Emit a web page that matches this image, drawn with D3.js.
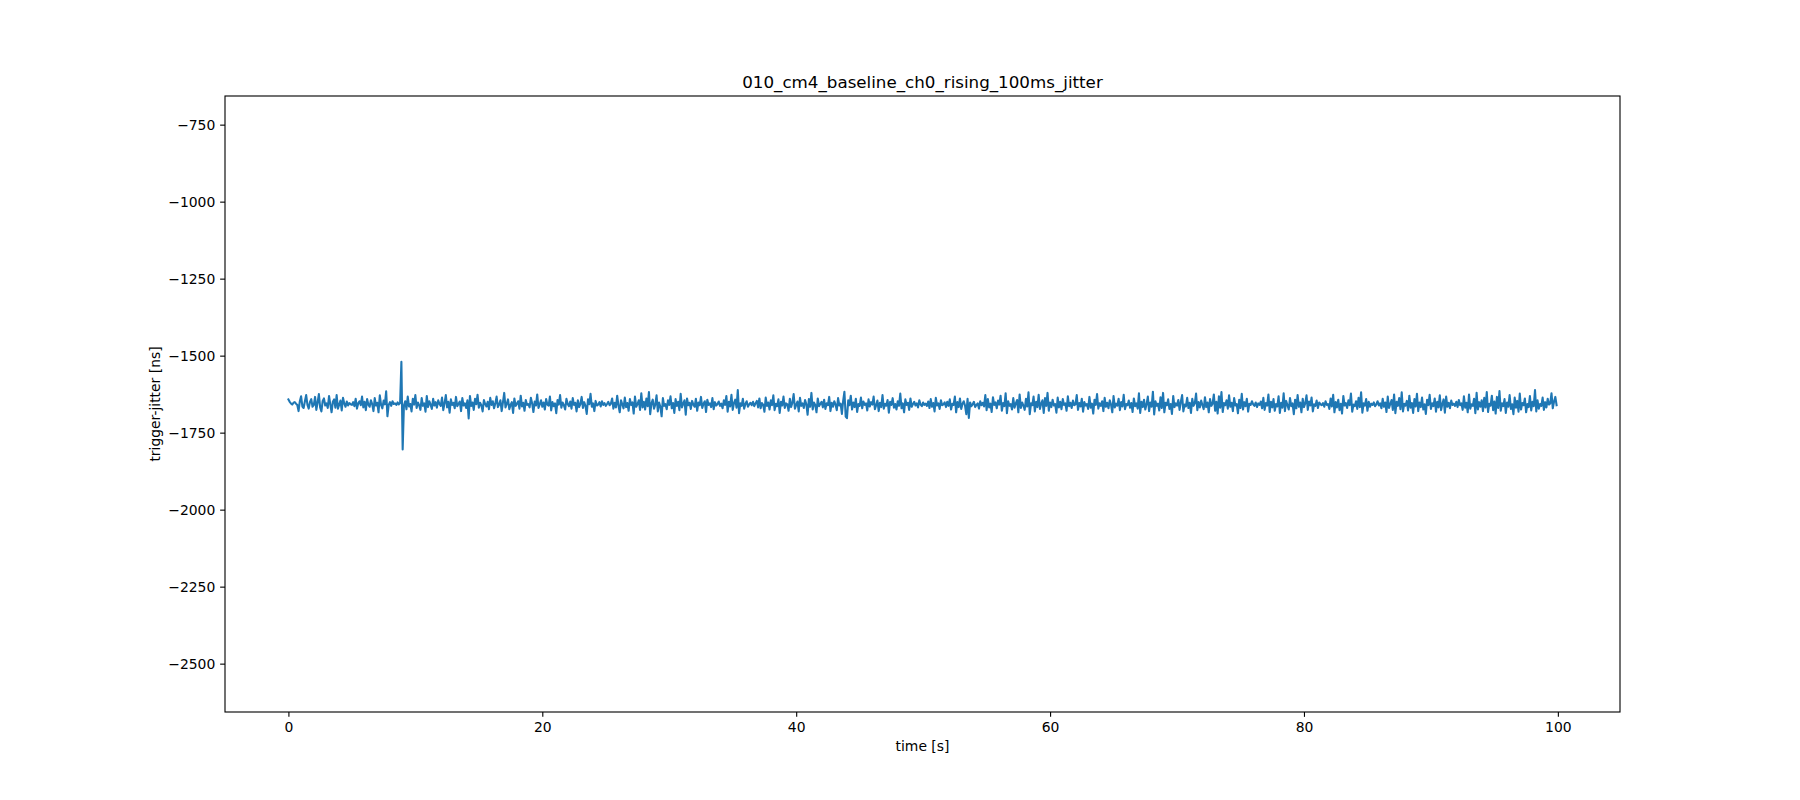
<!DOCTYPE html>
<html>
<head>
<meta charset="utf-8">
<script src="https://cdn.jsdelivr.net/npm/d3@7"></script>
<style>
  html, body { margin: 0; padding: 0; background: #ffffff; }
  svg { display: block; }
  text { font-family: "DejaVu Sans", sans-serif; fill: #000; }
</style>
</head>
<body>
<svg id="chart" width="1800" height="800"></svg>
<script>
// ---- data ----
const chartTitle = "010_cm4_baseline_ch0_rising_100ms_jitter";
const xLabel = "time [s]";
const yLabel = "trigger-jitter [ns]";
const sampleInterval = 0.1; // seconds between samples
const xTicks = [0, 20, 40, 60, 80, 100];
const yTicks = [-750, -1000, -1250, -1500, -1750, -2000, -2250, -2500];
const yLimits = [-2657, -657];

const jitter = [
-1642,-1650,-1655,-1659,-1653,-1651,-1656,-1660,-1680,-1648,-1632,-1665,-1670,-1648,-1628,-1660,-1672,-1650,-1641,-1666,
-1660,-1634,-1676,-1652,-1625,-1668,-1681,-1647,-1639,-1662,-1655,-1670,-1631,-1658,-1684,-1650,-1642,-1669,-1628,-1672,
-1659,-1646,-1678,-1637,-1655,-1666,-1649,-1662,-1654,-1658,-1660,-1651,-1664,-1640,-1672,-1655,-1648,-1661,-1633,-1668,
-1650,-1677,-1641,-1659,-1666,-1645,-1657,-1680,-1638,-1662,-1653,-1684,-1629,-1660,-1671,-1646,-1658,-1616,-1697,-1660,
-1651,-1663,-1648,-1657,-1655,-1660,-1652,-1658,-1654,-1520,-1805,-1662,-1648,-1674,-1633,-1665,-1657,-1681,-1640,-1659,
-1628,-1670,-1652,-1661,-1676,-1638,-1663,-1655,-1682,-1631,-1667,-1648,-1659,-1673,-1640,-1662,-1651,-1669,-1645,-1657,
-1663,-1636,-1677,-1654,-1628,-1668,-1650,-1685,-1642,-1660,-1653,-1671,-1634,-1664,-1657,-1649,-1680,-1638,-1662,-1655,
-1670,-1645,-1704,-1631,-1663,-1652,-1676,-1640,-1658,-1627,-1669,-1653,-1661,-1681,-1644,-1657,-1665,-1650,-1674,-1637,
-1660,-1648,-1671,-1655,-1633,-1667,-1659,-1645,-1680,-1652,-1621,-1668,-1657,-1642,-1674,-1660,-1651,-1686,-1639,-1663,
-1656,-1648,-1672,-1630,-1665,-1653,-1679,-1644,-1660,-1657,-1668,-1637,-1655,-1683,-1649,-1662,-1626,-1670,-1658,-1645,
-1666,-1652,-1675,-1641,-1659,-1662,-1633,-1678,-1651,-1664,-1655,-1687,-1644,-1659,-1628,-1669,-1652,-1661,-1675,-1640,
-1657,-1664,-1649,-1672,-1638,-1660,-1653,-1681,-1645,-1667,-1657,-1634,-1670,-1651,-1663,-1689,-1642,-1658,-1624,-1666,
-1655,-1680,-1647,-1662,-1659,-1651,-1665,-1648,-1660,-1654,-1663,-1657,-1650,-1661,-1656,-1639,-1672,-1653,-1668,-1630,
-1662,-1684,-1645,-1658,-1671,-1636,-1667,-1654,-1679,-1641,-1660,-1652,-1688,-1633,-1666,-1657,-1645,-1676,-1622,-1668,
-1650,-1675,-1639,-1664,-1618,-1690,-1655,-1643,-1672,-1659,-1629,-1681,-1652,-1666,-1697,-1638,-1663,-1657,-1674,-1645,
-1660,-1632,-1671,-1654,-1686,-1641,-1663,-1650,-1677,-1624,-1668,-1656,-1645,-1692,-1639,-1661,-1653,-1673,-1647,-1659,
-1666,-1640,-1679,-1652,-1661,-1634,-1670,-1656,-1648,-1683,-1643,-1660,-1655,-1667,-1638,-1674,-1651,-1662,-1657,-1649,
-1663,-1656,-1671,-1645,-1660,-1631,-1682,-1650,-1665,-1627,-1676,-1654,-1643,-1669,-1612,-1687,-1655,-1663,-1640,-1672,
-1657,-1648,-1666,-1658,-1653,-1661,-1650,-1664,-1655,-1647,-1668,-1639,-1671,-1654,-1660,-1682,-1636,-1663,-1652,-1675,
-1645,-1661,-1629,-1677,-1656,-1664,-1642,-1686,-1650,-1662,-1633,-1670,-1655,-1658,-1679,-1640,-1667,-1653,-1625,-1672,
-1660,-1649,-1681,-1637,-1663,-1655,-1670,-1644,-1658,-1692,-1641,-1666,-1621,-1675,-1652,-1660,-1684,-1639,-1664,-1657,
-1650,-1668,-1643,-1673,-1655,-1661,-1634,-1680,-1653,-1666,-1648,-1659,-1677,-1638,-1662,-1656,-1689,-1647,-1617,-1698,
-1703,-1645,-1661,-1630,-1675,-1652,-1667,-1640,-1683,-1657,-1663,-1636,-1671,-1649,-1660,-1655,-1678,-1642,-1665,-1651,
-1659,-1633,-1674,-1661,-1646,-1680,-1653,-1667,-1628,-1672,-1656,-1662,-1644,-1685,-1650,-1660,-1638,-1669,-1657,-1675,
-1648,-1663,-1623,-1671,-1655,-1684,-1642,-1660,-1653,-1676,-1639,-1666,-1657,-1650,-1662,-1655,-1668,-1645,-1659,-1664,
-1652,-1660,-1656,-1663,-1649,-1670,-1641,-1666,-1654,-1681,-1637,-1662,-1655,-1673,-1645,-1661,-1658,-1652,-1667,-1650,
-1663,-1642,-1675,-1656,-1660,-1633,-1684,-1651,-1667,-1639,-1673,-1657,-1648,-1662,-1690,-1640,-1702,-1652,-1664,-1658,
-1650,-1667,-1660,-1655,-1672,-1648,-1661,-1653,-1665,-1628,-1677,-1641,-1668,-1656,-1683,-1635,-1660,-1652,-1671,-1646,
-1659,-1630,-1679,-1654,-1664,-1622,-1687,-1648,-1663,-1657,-1675,-1638,-1669,-1655,-1644,-1684,-1626,-1670,-1652,-1662,
-1676,-1640,-1665,-1619,-1690,-1655,-1661,-1633,-1681,-1650,-1667,-1627,-1673,-1656,-1645,-1686,-1638,-1663,-1621,-1679,
-1652,-1667,-1643,-1662,-1657,-1685,-1636,-1668,-1650,-1674,-1641,-1660,-1655,-1679,-1632,-1664,-1653,-1670,-1646,-1661,
-1658,-1628,-1676,-1654,-1665,-1640,-1682,-1651,-1662,-1657,-1673,-1634,-1669,-1656,-1688,-1643,-1660,-1625,-1672,-1655,
-1663,-1648,-1680,-1637,-1666,-1653,-1671,-1645,-1659,-1684,-1631,-1668,-1656,-1662,-1640,-1677,-1651,-1665,-1627,-1674,
-1657,-1661,-1646,-1669,-1654,-1683,-1639,-1664,-1655,-1672,-1622,-1686,-1650,-1667,-1643,-1675,-1658,-1633,-1680,-1652,
-1666,-1617,-1691,-1648,-1663,-1656,-1678,-1635,-1670,-1621,-1684,-1653,-1661,-1642,-1673,-1657,-1689,-1631,-1667,-1655,
-1662,-1644,-1676,-1650,-1628,-1681,-1659,-1665,-1637,-1670,-1653,-1686,-1640,-1663,-1655,-1623,-1677,-1651,-1668,-1646,
-1660,-1674,-1635,-1667,-1652,-1684,-1641,-1663,-1656,-1626,-1679,-1650,-1688,-1632,-1669,-1618,-1683,-1654,-1661,-1645,
-1672,-1629,-1666,-1653,-1680,-1638,-1662,-1657,-1687,-1643,-1670,-1624,-1675,-1651,-1664,-1640,-1682,-1656,-1660,-1648,
-1658,-1663,-1652,-1667,-1655,-1660,-1649,-1671,-1637,-1676,-1654,-1662,-1626,-1683,-1650,-1668,-1641,-1679,-1657,-1665,
-1632,-1686,-1653,-1669,-1622,-1680,-1647,-1661,-1675,-1638,-1664,-1655,-1690,-1643,-1671,-1628,-1666,-1652,-1684,-1640,
-1667,-1655,-1629,-1676,-1649,-1662,-1636,-1681,-1658,-1663,-1646,-1670,-1652,-1658,-1661,-1654,-1666,-1648,-1660,-1657,
-1673,-1639,-1665,-1627,-1684,-1651,-1668,-1643,-1677,-1656,-1688,-1631,-1662,-1654,-1670,-1645,-1661,-1623,-1682,-1659,
-1664,-1648,-1673,-1637,-1667,-1619,-1685,-1655,-1662,-1641,-1679,-1650,-1666,-1656,-1660,-1652,-1664,-1658,-1648,-1662,
-1655,-1671,-1640,-1666,-1652,-1683,-1633,-1670,-1657,-1644,-1676,-1626,-1687,-1650,-1663,-1638,-1674,-1619,-1681,-1656,
-1662,-1647,-1678,-1630,-1669,-1654,-1686,-1641,-1665,-1624,-1680,-1652,-1667,-1636,-1675,-1658,-1689,-1643,-1661,-1627,
-1673,-1655,-1664,-1639,-1682,-1650,-1668,-1629,-1677,-1657,-1642,-1685,-1633,-1666,-1653,-1671,-1646,-1660,-1656,-1663,
-1650,-1667,-1644,-1661,-1655,-1676,-1632,-1669,-1653,-1684,-1626,-1672,-1658,-1663,-1640,-1687,-1621,-1675,-1651,-1666,
-1645,-1680,-1637,-1668,-1618,-1683,-1656,-1662,-1630,-1677,-1649,-1688,-1634,-1670,-1615,-1679,-1655,-1664,-1641,-1686,
-1652,-1666,-1628,-1673,-1658,-1690,-1636,-1669,-1647,-1682,-1623,-1675,-1654,-1661,-1639,-1684,-1657,-1667,-1631,-1678,
-1650,-1664,-1612,-1681,-1645,-1672,-1657,-1663,-1636,-1676,-1651,-1668,-1640,-1659,-1655,-1622,-1671,-1649,-1634,-1661
];

const points = jitter.map((v, i) => ({ t: +(i * sampleInterval).toFixed(1), v }));

// ---- layout ----
const W = 1800, H = 800;
const plot = { left: 225, right: 1620, top: 96, bottom: 712 };
const tickLen = 4.86, tickPad = 4.86;
const fontSize = 13.9;

const svg = d3.select("#chart");
svg.append("rect").attr("width", W).attr("height", H).attr("fill", "#fff");

const tExtent = d3.extent(points, d => d.t);
const tPad = (tExtent[1] - tExtent[0]) * 0.05;
const x = d3.scaleLinear().domain([tExtent[0] - tPad, tExtent[1] + tPad]).range([plot.left, plot.right]);
const y = d3.scaleLinear().domain(yLimits).range([plot.bottom, plot.top]);

const fmt = d => String(d).replace("-", "\u2212");

// line
svg.append("path")
  .datum(points)
  .attr("fill", "none")
  .attr("stroke", "#1f77b4")
  .attr("stroke-width", 2.08)
  .attr("stroke-linejoin", "round")
  .attr("stroke-linecap", "square")
  .attr("d", d3.line().x(d => x(d.t)).y(d => y(d.v)));

// x axis
const xAxis = d3.axisBottom(x).tickValues(xTicks).tickSize(tickLen).tickPadding(tickPad).tickFormat(fmt);
const gx = svg.append("g").attr("transform", `translate(0,${plot.bottom})`).call(xAxis);
gx.select(".domain").remove();
gx.selectAll("line").attr("stroke", "#000").attr("stroke-width", 1.11);
gx.selectAll("text").attr("font-family", "DejaVu Sans").attr("font-size", fontSize).attr("fill", "#000")
  .attr("dy", null).attr("y", tickLen + tickPad + 10.4);

// y axis
const yAxis = d3.axisLeft(y).tickValues(yTicks).tickSize(tickLen).tickPadding(tickPad).tickFormat(fmt);
const gy = svg.append("g").attr("transform", `translate(${plot.left},0)`).call(yAxis);
gy.select(".domain").remove();
gy.selectAll("line").attr("stroke", "#000").attr("stroke-width", 1.11);
gy.selectAll("text").attr("font-family", "DejaVu Sans").attr("font-size", fontSize).attr("fill", "#000")
  .attr("dy", "0.36em");

// frame
svg.append("rect")
  .attr("x", plot.left).attr("y", plot.top)
  .attr("width", plot.right - plot.left).attr("height", plot.bottom - plot.top)
  .attr("fill", "none").attr("stroke", "#000").attr("stroke-width", 1.11);

// labels
svg.append("text").attr("x", (plot.left + plot.right) / 2).attr("y", 88)
  .attr("text-anchor", "middle").attr("font-size", 16.7).text(chartTitle);
svg.append("text").attr("x", (plot.left + plot.right) / 2).attr("y", 751)
  .attr("text-anchor", "middle").attr("font-size", fontSize).text(xLabel);
svg.append("text").attr("transform", `translate(160,${(plot.top + plot.bottom) / 2}) rotate(-90)`)
  .attr("text-anchor", "middle").attr("font-size", fontSize).text(yLabel);
</script>
</body>
</html>
